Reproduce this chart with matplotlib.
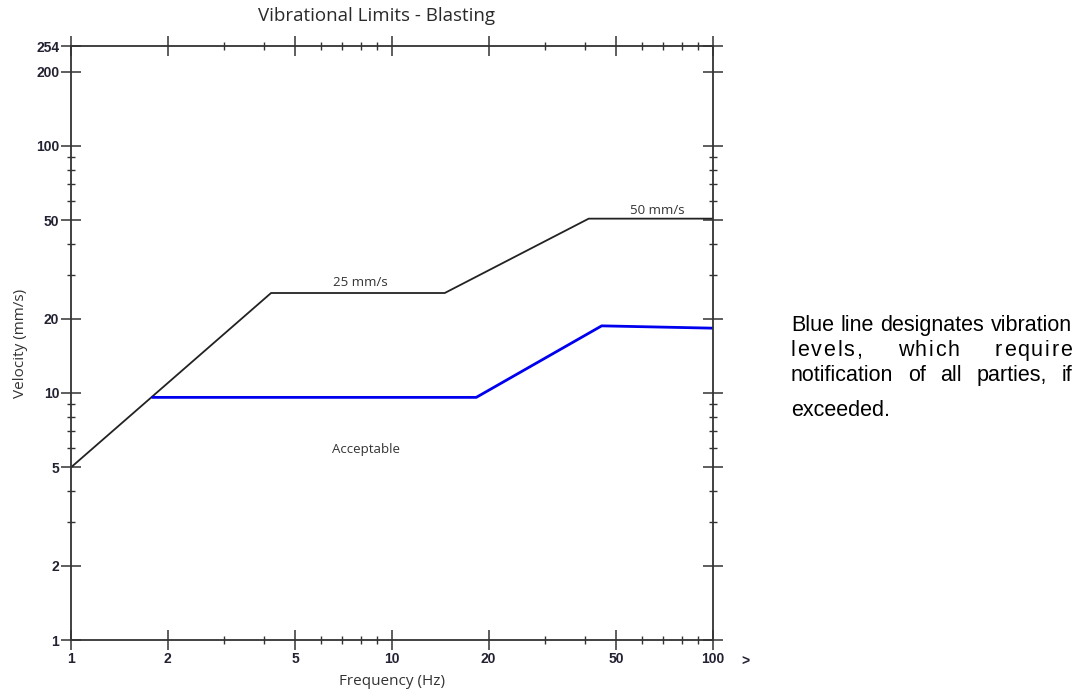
import matplotlib
matplotlib.use("Agg")
import matplotlib.pyplot as plt
from matplotlib.ticker import FixedLocator, NullFormatter

# limit curve (black) and notification level (blue)
limit_freq = [1, 4.2, 14.6, 41, 100]
limit_vel = [5, 25.4, 25.4, 50.8, 50.8]

notify_freq = [1.8, 18.3, 45, 100]
notify_vel = [9.6, 9.6, 18.7, 18.3]

x_major = [1, 2, 5, 10, 20, 50, 100]
x_minor = [3, 4, 6, 7, 8, 9, 30, 40, 60, 70, 80, 90]
y_major = [1, 2, 5, 10, 20, 50, 100, 200, 254]
y_minor = [3, 4, 6, 7, 8, 9, 30, 40, 60, 70, 80, 90]

note_lines = [
    (["Blue", "line", "designates", "vibration"], 331, 0),
    (["levels,", "which", "require"], 356, 1.7),
    (["notification", "of", "all", "parties,", "if"], 381, 0),
]
note_last = "exceeded."

W, H = 1086, 690
fig = plt.figure(figsize=(W / 100, H / 100), dpi=100)
ax = fig.add_axes([71 / W, 50 / H, 642 / W, 594 / H])

ax.plot(limit_freq, limit_vel, color="#222222", lw=1.3)
ax.plot(notify_freq, notify_vel, color="#0000ee", lw=2.0)

ax.set_xscale("log")
ax.set_yscale("log")
ax.set_xlim(1, 100)
ax.set_ylim(1, 254)

ax.xaxis.set_major_locator(FixedLocator(x_major))
ax.xaxis.set_minor_locator(FixedLocator(x_minor))
ax.yaxis.set_major_locator(FixedLocator(y_major))
ax.yaxis.set_minor_locator(FixedLocator(y_minor))
ax.set_xticklabels([str(v) for v in x_major])
ax.set_yticklabels([str(v) for v in y_major])
ax.xaxis.set_minor_formatter(NullFormatter())
ax.yaxis.set_minor_formatter(NullFormatter())

tick_font = dict(family="Liberation Sans", weight="bold", size=10)
ax.tick_params(which="major", direction="inout", length=15, width=1.1,
               color="#333333", top=True, right=True, pad=1.0,
               labelcolor="#222233")
ax.tick_params(which="minor", direction="inout", length=6, width=1.0,
               color="#333333", top=True, right=True)
for lab in ax.get_xticklabels() + ax.get_yticklabels():
    lab.set_fontproperties(matplotlib.font_manager.FontProperties(**tick_font))

for sp in ax.spines.values():
    sp.set_linewidth(1.3)
    sp.set_color("#333333")

ax.set_xlabel("Frequency (Hz)", family="Open Sans", size=11, color="#333333", labelpad=6)
ax.set_ylabel("Velocity (mm/s)", family="Open Sans", size=11, color="#333333", labelpad=6)
fig.text(376 / W, 1 - 16 / H, "Vibrational Limits - Blasting", family="Open Sans",
         size=13.5, color="#2a2a2a", ha="center", va="center")

note_font = dict(family="Open Sans", size=9.5, color="#333333")
fig.text(360 / W, 1 - 283 / H, "25 mm/s", ha="center", va="center", **note_font)
fig.text(657 / W, 1 - 211 / H, "50 mm/s", ha="center", va="center", **note_font)
fig.text(366 / W, 1 - 450 / H, "Acceptable", ha="center", va="center", **note_font)
fig.text(745 / W, 1 - 662 / H, ">", ha="center", va="center", **tick_font, color="#222233")

# justified paragraph on the right
renderer = fig.canvas.get_renderer()
body = dict(family="Liberation Sans", size=15.5, color="black", va="baseline")
left, right = 791, 1072


def word_width(word, track):
    total = 0
    for ch in word:
        t = fig.text(0, 0, ch, **body)
        total += t.get_window_extent(renderer).width
        t.remove()
    return total + track * (len(word) - 1)


def draw_word(word, x, y, track):
    if track == 0:
        fig.text(x / W, 1 - y / H, word, **body)
        return
    for ch in word:
        t = fig.text(x / W, 1 - y / H, ch, **body)
        x += t.get_window_extent(renderer).width + track


for words, base, track in note_lines:
    if track == 0:
        widths = []
        for w in words:
            t = fig.text(0, 0, w, **body)
            widths.append(t.get_window_extent(renderer).width)
            t.remove()
    else:
        widths = [word_width(w, track) for w in words]
    gap = (right - left - sum(widths)) / (len(words) - 1)
    x = left
    for w, wd in zip(words, widths):
        draw_word(w, x, base, track)
        x += wd + gap

fig.text(left / W, 1 - 416 / H, note_last, **body)

fig.savefig("out.png", dpi=100)
